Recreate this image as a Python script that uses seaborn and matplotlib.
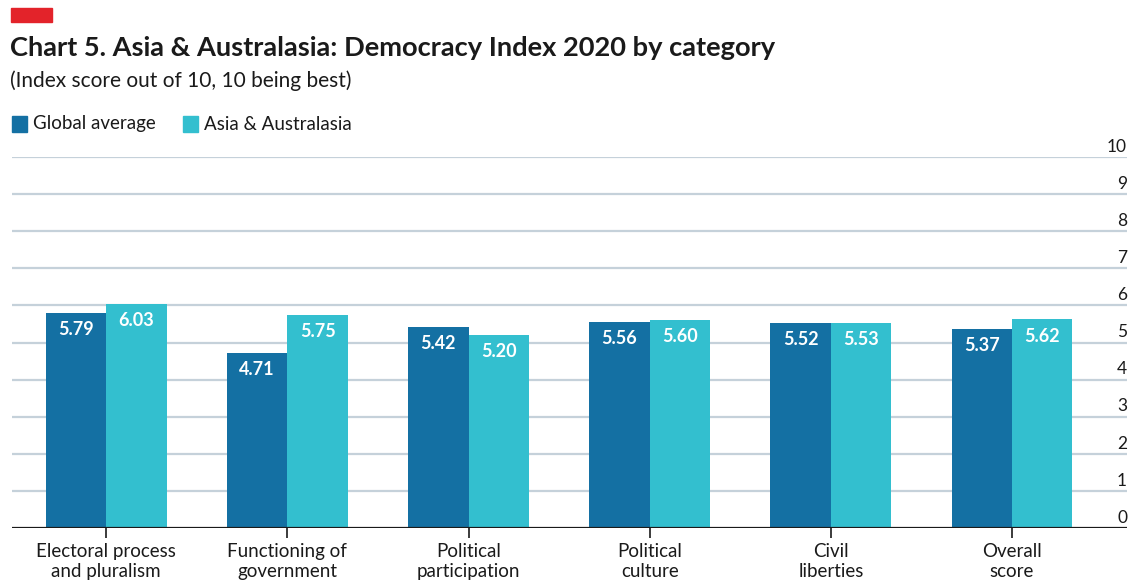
import matplotlib
matplotlib.use("Agg")
import matplotlib.pyplot as plt
import matplotlib.transforms as mtransforms
from matplotlib.patches import Rectangle
import seaborn as sns
import pandas as pd

categories = [
    "Electoral process\nand pluralism",
    "Functioning of\ngovernment",
    "Political\nparticipation",
    "Political\nculture",
    "Civil\nliberties",
    "Overall\nscore",
]
global_average = [5.79, 4.71, 5.42, 5.56, 5.52, 5.37]
asia_australasia = [6.03, 5.75, 5.20, 5.60, 5.53, 5.62]
series_names = ["Global average", "Asia & Australasia"]
y_ticks = [0, 1, 2, 3, 4, 5, 6, 7, 8, 9, 10]

dark_blue = "#1470a3"
light_blue = "#33bfcf"
grid_colour = "#c5d1da"
text_colour = "#1a1a1a"

df = pd.DataFrame({
    "category": categories * 2,
    "series": [series_names[0]] * len(categories) + [series_names[1]] * len(categories),
    "value": global_average + asia_australasia,
})

sns.set_theme(style="white")
plt.rcParams["font.family"] = ["Lato", "DejaVu Sans"]

fig = plt.figure(figsize=(11.39, 5.84), dpi=100)
ax = fig.add_axes([12 / 1139, 1 - 528 / 584, (1127 - 12) / 1139, (528 - 157) / 584])

sns.barplot(
    data=df, x="category", y="value", hue="series",
    palette=[dark_blue, light_blue], width=0.667, gap=0,
    saturation=1, ax=ax, legend=False, zorder=3, linewidth=0,
)

ax.set_xlim(-0.52, 5.635)
ax.set_ylim(0, 10)

# horizontal gridlines and the zero baseline
for v in y_ticks[1:]:
    ax.axhline(v, color=grid_colour, linewidth=1.6, zorder=1)
ax.axhline(0, color=text_colour, linewidth=1.6, zorder=4)

for s in ax.spines.values():
    s.set_visible(False)

# y tick labels sit above their gridlines at the right edge
ax.set_yticks([])
trans = mtransforms.blended_transform_factory(ax.transAxes, ax.transData)
for v in y_ticks:
    ax.text(1.0, v + 0.06, str(v), transform=trans, ha="right", va="bottom",
            fontsize=12.5, color=text_colour)

ax.set_xticks(range(len(categories)))
ax.set_xticklabels(categories, fontsize=13.5, color=text_colour, linespacing=1.2)
ax.tick_params(axis="x", length=7, width=1.2, color=text_colour, pad=4, direction="out")
ax.xaxis.set_ticks_position("bottom")
ax.set_xlabel("")
ax.set_ylabel("")

# value labels inside each bar
for container in ax.containers:
    for bar in container:
        h = bar.get_height()
        ax.text(bar.get_x() + bar.get_width() / 2, h - 0.45, f"{h:.2f}",
                ha="center", va="center", fontsize=13, fontweight="bold",
                color="white", zorder=5)

# header
fig.patches.append(Rectangle((11 / 1139, 1 - 22 / 584), 41 / 1139, 14 / 584,
                             transform=fig.transFigure, color="#e3232a"))
fig.text(10 / 1139, 1 - 48 / 584, "Chart 5. Asia & Australasia: Democracy Index 2020 by category",
         fontsize=19.6, fontweight="bold", color=text_colour, va="center", ha="left")
fig.text(10 / 1139, 1 - 81 / 584, "(Index score out of 10, 10 being best)",
         fontsize=15, color=text_colour, va="center", ha="left")

# legend
legend_items = [(12, series_names[0], dark_blue), (183, series_names[1], light_blue)]
for x0, name, colour in legend_items:
    fig.patches.append(Rectangle((x0 / 1139, 1 - 132 / 584), 15 / 1139, 16 / 584,
                                 transform=fig.transFigure, color=colour))
    fig.text((x0 + 21) / 1139, 1 - 124 / 584, name, fontsize=13.5,
             color=text_colour, va="center", ha="left")

fig.savefig("out.png", dpi=100)
